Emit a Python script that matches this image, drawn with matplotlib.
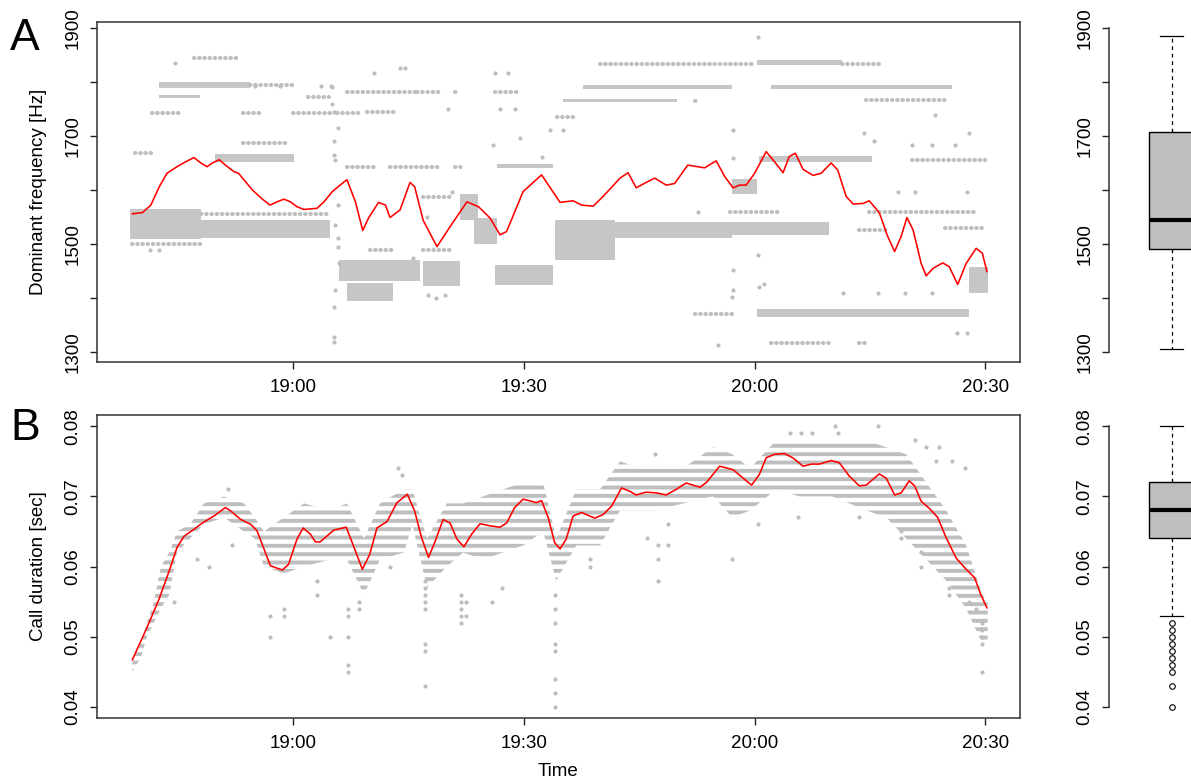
import matplotlib
matplotlib.use("Agg")
import matplotlib.pyplot as plt

plt.rcParams['font.family'] = ['Liberation Sans', 'DejaVu Sans']
plt.rcParams['hatch.linewidth'] = 2.8

GRAY = '#BEBEBE'

# ---------------- Panel A data (time in minutes after 18:00, frequency in Hz) ----------------
# dense clusters of calls: start, end, low, high
fa_band_t0 = [38.8, 48.0, 42.6, 49.9, 66.0, 67.0, 76.9, 81.7, 83.5, 86.2, 94.0, 101.8, 117.0,
              120.3, 120.6, 117.1, 120.3, 147.9, 97.7, 122.1, 95.1, 42.6, 86.5]
fa_band_t1 = [48.0, 64.8, 54.4, 60.1, 76.5, 73.0, 81.7, 84.0, 86.5, 93.8, 101.8, 117.0, 129.7,
              131.4, 135.3, 120.3, 147.9, 150.3, 117.1, 145.7, 109.9, 47.9, 93.8]
fa_band_lo = [1510, 1512, 1789, 1652, 1432, 1395, 1422, 1545, 1500, 1424, 1470, 1511, 1516,
              1831, 1651, 1592, 1364, 1409, 1787, 1787, 1762, 1770, 1641]
fa_band_hi = [1565, 1545, 1800, 1667, 1470, 1428, 1468, 1592, 1548, 1462, 1545, 1540, 1541,
              1841, 1662, 1620, 1379, 1457, 1794, 1795, 1768, 1776, 1649]

# sparse rows of calls: start, end, frequency
fa_row_t0 = [54.4, 47.1, 41.7, 53.5, 60.0, 65.7, 39.5, 53.5, 67.0, 76.1, 81.0, 86.2, 67.0, 72.6,
             81.0, 70.0, 76.9, 76.9, 99.9, 131.4, 112.2, 94.3, 140.5, 116.8, 134.9, 112.2, 122.1,
             133.6, 134.5, 133.6, 144.7, 48.0, 61.9, 69.6, 39.0]
fa_row_t1 = [60.0, 52.7, 45.4, 56.0, 64.8, 68.7, 42.0, 59.2, 76.1, 79.0, 81.7, 89.2, 70.5, 79.0,
             82.0, 73.2, 80.4, 80.4, 120.0, 136.6, 112.9, 96.6, 149.9, 123.2, 149.0, 117.1, 129.7,
             134.9, 144.9, 137.5, 149.9, 64.8, 64.7, 73.1, 48.0]
fa_row_f = [1794, 1845, 1742, 1742, 1742, 1742, 1668, 1687, 1781, 1781, 1781, 1781, 1643, 1643,
            1643, 1489, 1489, 1587, 1833, 1833, 1765, 1735, 1656, 1559, 1559, 1371, 1317,
            1317, 1767, 1525, 1530, 1555, 1772, 1744, 1500]

# isolated calls
fa_pt_t = [65.0, 65.3, 65.8, 65.3, 65.3, 65.5, 65.8, 65.5, 65.8, 65.8, 66.0, 65.5, 65.3, 65.3, 65.3,
           65.0, 117.2, 117.2, 117.2, 117.2, 117.0, 44.7, 70.5, 73.9, 74.5, 55.1, 58.3, 63.6, 64.9,
           86.2, 87.9, 80.1, 86.9, 88.8, 93.4, 95.1, 86.0, 89.5, 92.3, 77.4, 75.6, 77.5, 78.6, 79.7,
           80.6, 112.6, 115.2, 120.5, 143.4, 134.2, 135.5, 140.5, 143.0, 146.0, 147.9, 138.6, 140.9,
           147.6, 120.4, 120.6, 121.2, 131.5, 136.0, 139.5, 143.0, 146.3, 147.6, 41.4, 42.5]
fa_pt_f = [1790, 1745, 1715, 1690, 1665, 1655, 1572, 1535, 1511, 1495, 1465, 1415, 1383, 1328, 1318,
           1760, 1711, 1659, 1452, 1415, 1402, 1835, 1816, 1825, 1825, 1793, 1793, 1793, 1793,
           1816, 1816, 1750, 1750, 1750, 1711, 1711, 1683, 1696, 1661, 1550, 1474, 1405, 1400, 1405,
           1596, 1559, 1313, 1883, 1739, 1705, 1690, 1683, 1683, 1683, 1706, 1596, 1596,
           1596, 1480, 1420, 1425, 1409, 1409, 1409, 1409, 1335, 1335, 1489, 1489]

# smoothed dominant frequency (red line)
fa_sm_t = [39.1, 40.4, 41.5, 42.6, 43.6, 44.9, 46.0, 47.1, 48.0, 48.8, 49.5, 50.4, 51.2, 52.3, 52.9,
           53.6, 54.7, 56.0, 57.0, 57.9, 58.8, 59.65, 60.5, 61.4, 63.1, 64.0, 65.1, 66.1, 67.0, 68.1,
           69.05, 69.8, 71.1, 72.0, 72.6, 73.9, 75.2, 75.8, 76.9, 78.7, 80.4, 82.6, 84.1, 85.6,
           86.9, 87.75, 89.9, 92.3, 94.7, 96.4, 97.5, 99.0, 100.3, 102.5, 103.55, 104.6, 105.9,
           107.0, 108.5, 109.6, 111.3, 113.5, 115.0, 116.1, 117.2, 118.05, 118.9, 120.0, 121.5,
           122.6, 123.7, 124.5, 125.3, 126.3, 127.6, 128.65, 129.95, 130.8, 131.9, 132.8, 134.1,
           134.9, 136.2, 137.3, 138.2, 139.05, 139.8, 140.6, 141.65, 142.3, 143.2, 144.45, 145.3,
           146.4, 147.5, 148.8, 149.6, 150.2]
fa_sm_f = [1556, 1558, 1572, 1606, 1631, 1643, 1652, 1660, 1650, 1643, 1650, 1656, 1646, 1634, 1631,
           1619, 1600, 1583, 1572, 1578, 1583, 1578, 1569, 1564, 1566, 1578, 1597, 1609, 1619, 1578,
           1525, 1548, 1577, 1572, 1549, 1563, 1614, 1606, 1544, 1495, 1532, 1578, 1569, 1548,
           1517, 1523, 1597, 1628, 1577, 1580, 1572, 1570, 1588, 1622, 1632, 1604, 1614,
           1622, 1609, 1612, 1646, 1641, 1654, 1625, 1604, 1609, 1609, 1631, 1671,
           1652, 1632, 1662, 1668, 1638, 1627, 1631, 1650, 1637, 1588, 1574, 1575,
           1580, 1558, 1514, 1486, 1514, 1549, 1526, 1464, 1441, 1455, 1465, 1458,
           1425, 1464, 1492, 1483, 1449]

# ---------------- Panel B data (call duration in seconds) ----------------
# envelope of the dense cloud of calls
db_env_t = [39.1, 40.2, 41.0, 41.9, 42.8, 43.9, 44.9, 46.6, 48.4, 51.0, 53.6, 55.0, 56.2, 58.8,
            61.4, 64.8, 67.0, 69.2, 71.3, 74.4, 75.5, 77.4, 80.0, 82.1, 84.7, 87.3, 89.9, 92.5,
            94.2, 96.8, 99.9, 102.5, 105.1, 107.2, 110.7, 114.6, 117.1, 119.4, 122.8, 125.8,
            130.1, 134.5, 137.1, 139.7, 142.3, 144.9, 147.5, 149.6, 150.3]
db_env_lo = [0.045, 0.047, 0.050, 0.052, 0.054, 0.056, 0.062, 0.064, 0.066, 0.067, 0.065, 0.064,
             0.060, 0.059, 0.060, 0.061, 0.061, 0.056, 0.061, 0.062, 0.066, 0.057, 0.060, 0.062,
             0.061, 0.062, 0.063, 0.065, 0.058, 0.063, 0.063, 0.068, 0.068, 0.068, 0.069, 0.070,
             0.067, 0.068, 0.071, 0.070, 0.070, 0.068, 0.067, 0.064, 0.061, 0.058, 0.054, 0.049,
             0.049]
db_env_hi = [0.047, 0.049, 0.052, 0.055, 0.060, 0.062, 0.065, 0.066, 0.069, 0.070, 0.069, 0.067,
             0.065, 0.067, 0.069, 0.068, 0.069, 0.064, 0.069, 0.071, 0.071, 0.064, 0.069, 0.069,
             0.070, 0.071, 0.072, 0.072, 0.064, 0.071, 0.071, 0.075, 0.074, 0.074, 0.074, 0.077,
             0.076, 0.074, 0.078, 0.078, 0.078, 0.078, 0.077, 0.076, 0.072, 0.068, 0.063, 0.056,
             0.055]

# isolated calls
db_pt_t = [44.5, 47.5, 49.1, 52.0, 57.05, 57.05, 58.8, 58.8, 63.1, 63.1, 64.8, 67.1, 67.1, 67.1,
           67.1, 67.1, 68.6, 68.6, 72.6, 77.1, 77.1, 77.1, 77.1, 77.1, 77.1, 77.1, 77.1, 81.8, 81.8,
           81.8, 81.8, 81.8, 82.5, 82.5, 85.8, 87.1, 94.1, 94.1, 94.1, 94.1, 94.1, 94.1, 94.1, 94.1,
           98.6, 98.6, 107.4, 107.4, 107.4, 108.8, 108.8, 106.0, 117.0, 120.4, 125.6, 133.6, 139.0,
           139.0, 141.6, 141.6, 145.3, 145.3, 147.9, 148.8, 149.6, 149.6, 149.6, 149.6, 149.6,
           51.5, 73.6, 74.2, 107.0, 130.4, 136.1, 124.6, 126.0, 127.5, 130.8, 144.0, 143.6, 145.6,
           147.3, 142.3, 140.8]
db_pt_d = [0.055, 0.061, 0.060, 0.063, 0.053, 0.050, 0.054, 0.053, 0.058, 0.056, 0.050, 0.054,
           0.053, 0.050, 0.046, 0.045, 0.055, 0.054, 0.060, 0.058, 0.057, 0.056, 0.055, 0.054,
           0.049, 0.048, 0.043, 0.056, 0.055, 0.054, 0.053, 0.052, 0.055, 0.053, 0.055, 0.057,
           0.056, 0.054, 0.052, 0.049, 0.048, 0.044, 0.042, 0.040, 0.061, 0.060, 0.063, 0.061,
           0.058, 0.066, 0.063, 0.064, 0.061, 0.066, 0.067, 0.067, 0.065, 0.064, 0.062, 0.060,
           0.057, 0.056, 0.055, 0.054, 0.052, 0.051, 0.050, 0.049, 0.045,
           0.071, 0.074, 0.073, 0.076, 0.080, 0.080, 0.079, 0.079, 0.079, 0.079, 0.077, 0.075,
           0.075, 0.074, 0.077, 0.078]

# smoothed call duration (red line)
db_sm_t = [39.1, 41.0, 42.55, 43.9, 44.9, 45.8, 47.1, 48.2, 49.7, 51.2, 51.9, 53.2, 54.5, 55.3,
           57.05, 58.6, 59.4, 60.5, 61.3, 62.25, 62.9, 63.5, 65.3, 66.9, 68.1, 69.0, 69.95, 70.9,
           72.2, 73.5, 74.85, 75.8, 76.7, 77.6, 78.4, 79.5, 80.4, 81.3, 82.2, 83.2, 84.3, 85.6,
           86.9, 87.75, 88.8, 89.9, 91.0, 91.6, 92.3, 93.15, 94.0, 94.7, 95.5, 96.4, 97.5, 99.2,
           100.3, 101.4, 102.7, 103.8, 104.6, 105.9, 107.2, 108.5, 109.8, 111.1, 112.9, 113.75,
           115.45, 117.2, 118.5, 119.6, 120.6, 121.5, 122.6, 123.9, 124.95, 126.3, 127.4, 128.4,
           129.95, 131.0, 132.3, 133.6, 134.5, 136.2, 137.1, 138.2, 139.05, 140.1, 140.8, 141.65,
           142.7, 143.8, 144.9, 146.2, 147.5, 148.6, 149.4, 150.2]
db_sm_d = [0.0467, 0.0513, 0.0553, 0.0594, 0.0627, 0.0643, 0.0653, 0.0662, 0.0672, 0.0684, 0.0679,
           0.0667, 0.0660, 0.0651, 0.0601, 0.0595, 0.0603, 0.0639, 0.0655, 0.0646, 0.0635, 0.0635,
           0.0652, 0.0656, 0.0622, 0.0596, 0.0617, 0.0655, 0.0664, 0.0691, 0.0703, 0.0679, 0.0641,
           0.0613, 0.0634, 0.0667, 0.0662, 0.0639, 0.0628, 0.0646, 0.0661, 0.0658, 0.0656, 0.0662,
           0.0684, 0.0696, 0.0693, 0.0691, 0.0694, 0.0670, 0.0634, 0.0625, 0.0639, 0.0672, 0.0677,
           0.0669, 0.0674, 0.0686, 0.0712, 0.0707, 0.0702, 0.0706, 0.0705, 0.0702, 0.0710, 0.0719,
           0.0713, 0.0720, 0.0743, 0.0738, 0.0726, 0.0716, 0.0731, 0.0755, 0.0760, 0.0761, 0.0755,
           0.0743, 0.0746, 0.0746, 0.0751, 0.0748, 0.0729, 0.0715, 0.0716, 0.0732, 0.0726, 0.0702,
           0.0705, 0.0722, 0.0715, 0.0693, 0.0683, 0.0670, 0.0641, 0.0612, 0.0596, 0.0584, 0.0560,
           0.0541]

# ---------------- Boxplot summaries ----------------
box_freq = dict(whislo=1306, q1=1491, med=1544, q3=1707, whishi=1885, fliers=[])
box_dur = dict(whislo=0.053, q1=0.064, med=0.068, q3=0.072, whishi=0.080,
               fliers=[0.052, 0.051, 0.050, 0.049, 0.048, 0.047, 0.046, 0.045, 0.043, 0.040])

time_ticks = [60, 90, 120, 150]
time_labels = ['19:00', '19:30', '20:00', '20:30']
freq_ticks = [1300, 1400, 1500, 1600, 1700, 1800, 1900]
freq_labels = ['1300', '', '1500', '', '1700', '', '1900']
dur_ticks = [0.04, 0.05, 0.06, 0.07, 0.08]
dur_labels = ['0.04', '0.05', '0.06', '0.07', '0.08']

# ---------------- Figure ----------------
W, H = 1191, 784
fig = plt.figure(figsize=(W / 100, H / 100), dpi=100)


def px_rect(x0, y0, x1, y1):
    return [x0 / W, 1 - y1 / H, (x1 - x0) / W, (y1 - y0) / H]


axA = fig.add_axes(px_rect(97, 22, 1020, 362))
axB = fig.add_axes(px_rect(97, 415, 1020, 718))
bxA = fig.add_axes(px_rect(1109, 22, 1234, 362))
bxB = fig.add_axes(px_rect(1109, 415, 1234, 718))

FS = 13.5
XLIM = (34.5, 154.5)
YLIM_A = (1281.5, 1911)
YLIM_B = (0.0384, 0.0816)


def style_y(ax, ticks, labels, ylim):
    ax.set_ylim(*ylim)
    ax.set_yticks(ticks)
    ax.set_yticklabels(labels)
    ax.tick_params(axis='y', length=5, width=1, pad=6, labelsize=FS, colors='#222222',
                   labelcolor='black')
    for lab in ax.get_yticklabels():
        lab.set_rotation(90)
        lab.set_va('center')
        lab.set_ha('right')


# Panel A
for t0, t1, lo, hi in zip(fa_band_t0, fa_band_t1, fa_band_lo, fa_band_hi):
    axA.bar(t0, hi - lo, width=t1 - t0, bottom=lo, align='edge', color='#C6C6C6',
            linewidth=0, zorder=1)
axA.hlines(fa_row_f, fa_row_t0, fa_row_t1, colors=GRAY, linewidth=3.0,
           linestyles=(0, (0.1, 1.15)), capstyle='round', zorder=1)
axA.scatter(fa_pt_t, fa_pt_f, s=9, color=GRAY, linewidths=0, zorder=1)
axA.plot(fa_sm_t, fa_sm_f, color='#FF0000', linewidth=1.15, zorder=3)
axA.set_xlim(*XLIM)
style_y(axA, freq_ticks, freq_labels, YLIM_A)
axA.set_ylabel('Dominant frequency [Hz]', fontsize=FS)
axA.yaxis.set_label_coords(-0.054, 0.5)

# Panel B
axB.fill_between(db_env_t, db_env_lo, db_env_hi, facecolor='none', edgecolor=GRAY,
                 hatch='--', linewidth=0, zorder=1)
axB.scatter(db_pt_t, db_pt_d, s=9, color=GRAY, linewidths=0, zorder=1)
axB.plot(db_sm_t, db_sm_d, color='#FF0000', linewidth=1.15, zorder=3)
axB.set_xlim(*XLIM)
style_y(axB, dur_ticks, dur_labels, YLIM_B)
axB.set_ylabel('Call duration [sec]', fontsize=FS)
axB.yaxis.set_label_coords(-0.054, 0.5)
axB.set_xlabel('Time', fontsize=FS, labelpad=8)

for ax in (axA, axB):
    ax.set_xticks(time_ticks)
    ax.set_xticklabels(time_labels)
    ax.tick_params(axis='x', length=5, width=1, pad=7, labelsize=FS, colors='#222222',
                   labelcolor='black')
    for sp in ax.spines.values():
        sp.set_linewidth(1.1)
        sp.set_color('#333333')

# Box panels
for bx, st, ticks, labels, ylim, lo, hi in (
        (bxA, box_freq, freq_ticks, freq_labels, YLIM_A, 1300, 1900),
        (bxB, box_dur, dur_ticks, dur_labels, YLIM_B, 0.04, 0.08)):
    bx.bxp([st], positions=[1], widths=0.362, capwidths=0.181, patch_artist=True,
           boxprops=dict(facecolor=GRAY, edgecolor='black', linewidth=1.0),
           medianprops=dict(color='black', linewidth=3.0, solid_capstyle='butt'),
           whiskerprops=dict(color='black', linewidth=0.9, linestyle=(0, (3, 3))),
           capprops=dict(color='black', linewidth=0.9),
           flierprops=dict(marker='o', markerfacecolor='none', markeredgecolor='black',
                           markersize=4, markeredgewidth=0.8),
           showfliers=True)
    bx.set_xlim(0.5, 1.5)
    style_y(bx, ticks, labels, ylim)
    bx.set_xticks([])
    for side in ('top', 'right', 'bottom'):
        bx.spines[side].set_visible(False)
    bx.spines['left'].set_bounds(lo, hi)
    bx.spines['left'].set_linewidth(1.1)
    bx.spines['left'].set_color('#333333')

fig.text(10 / W, 1 - 50 / H, 'A', fontsize=32, va='baseline', ha='left')
fig.text(10 / W, 1 - 440 / H, 'B', fontsize=32, va='baseline', ha='left')

fig.savefig('out.png', dpi=100)
